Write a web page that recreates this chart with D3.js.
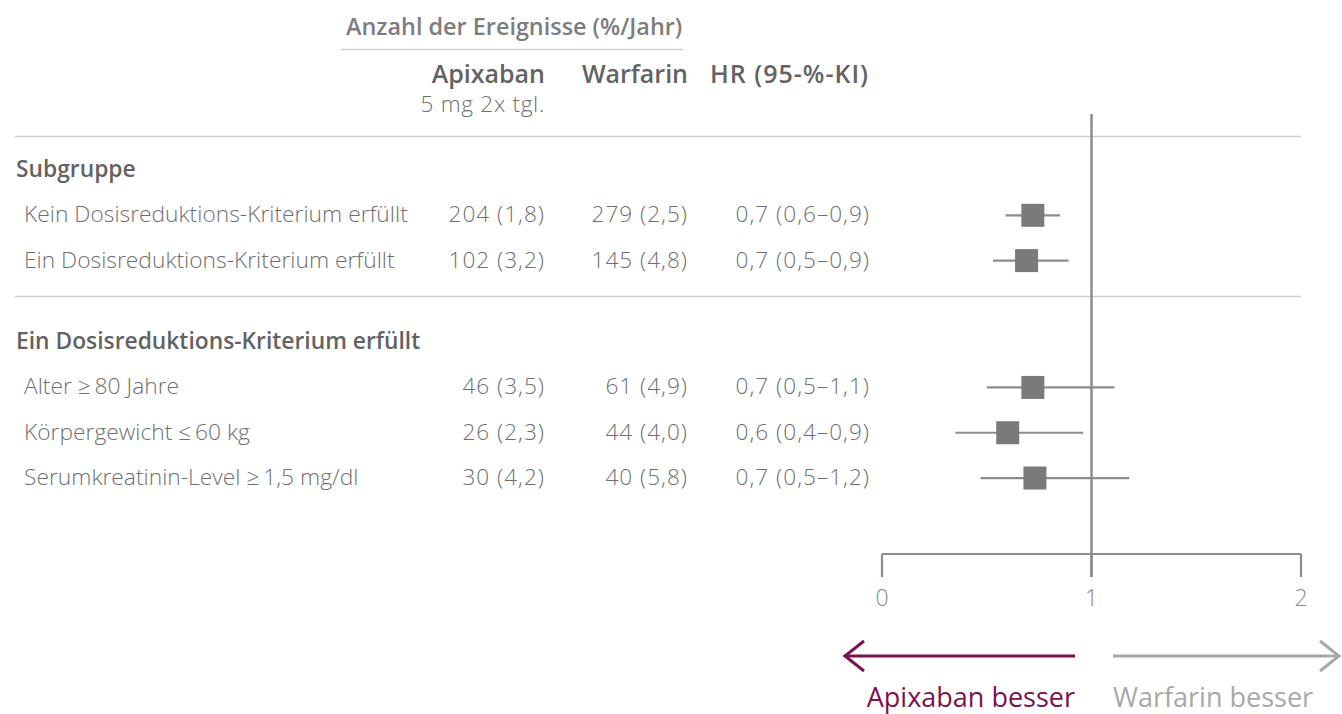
<!DOCTYPE html>
<html>
<head>
<meta charset="utf-8">
<script src="https://cdn.jsdelivr.net/npm/d3@7"></script>
<style>
  html, body { margin: 0; padding: 0; background: #fff; }
  svg { display: block; }
  text { font-family: "Open Sans", "Noto Sans", sans-serif; }
</style>
</head>
<body>
<svg id="chart" width="1342" height="714"></svg>
<script>
// ---------- data ----------
const groupTitles = ["Subgruppe", "Ein Dosisreduktions-Kriterium erfüllt"];
const subgroups = [
  "Kein Dosisreduktions-Kriterium erfüllt",
  "Ein Dosisreduktions-Kriterium erfüllt",
  "Alter \u2265\u200980 Jahre",
  "Körpergewicht \u2264\u200960 kg",
  "Serumkreatinin-Level \u2265\u20091,5 mg/dl"
];
const subgroupGroup = [0, 0, 1, 1, 1];
const apixEvents = [204, 102, 46, 26, 30];
const apixRate   = [1.8, 3.2, 3.5, 2.3, 4.2];
const warfEvents = [279, 145, 61, 44, 40];
const warfRate   = [2.5, 4.8, 4.9, 4.0, 5.8];
const hrEst  = [0.72, 0.69, 0.72, 0.60, 0.73];
const ciLow  = [0.59, 0.53, 0.50, 0.35, 0.47];
const ciHigh = [0.85, 0.89, 1.11, 0.96, 1.18];
const hrLabels = ["0,7 (0,6–0,9)", "0,7 (0,5–0,9)", "0,7 (0,5–1,1)", "0,6 (0,4–0,9)", "0,7 (0,5–1,2)"];
const xTicks = [0, 1, 2];
const headerTitle = "Anzahl der Ereignisse (%/Jahr)";
const colHeaders = ["Apixaban", "Warfarin", "HR (95-%-KI)"];
const apixSub = "5 mg 2x tgl.";
const arrowLabels = ["Apixaban besser", "Warfarin besser"];

// ---------- layout ----------
const svg = d3.select("#chart");
const fmt = v => v.toFixed(1).replace(".", ",");
const txt = "#6f6f6f", bold = "#636363", markC = "#7a7a7a", lineC = "#8c8c8c";
const purple = "#7b1250", lightGray = "#a8a8a8";
const labelSize = 22.8, numSize = 22.6, groupSize = 22.8, colSize = 25, boldW = 600;

const x = d3.scaleLinear().domain([0, 2]).range([882, 1301]);
const slots = [];
let s = 0;
groupTitles.forEach((g, gi) => {
  slots.push({type: "header", text: g, slot: s});
  s += 1;
  subgroups.forEach((r, i) => { if (subgroupGroup[i] === gi) { slots.push({type: "row", i, slot: s}); s += 1; } });
  s += 0.8;
});
const y = d3.scaleLinear().domain([0, 1]).range([169, 214.3]);

// header
svg.append("text").attr("x", 346).attr("y", 27).attr("dy", "0.35em")
  .attr("font-size", 23.4).attr("font-weight", boldW).attr("fill", "#7d7d7d").text(headerTitle);
svg.append("line").attr("x1", 341).attr("x2", 683).attr("y1", 49.5).attr("y2", 49.5)
  .attr("stroke", "#cfcfcf").attr("stroke-width", 1.5);
svg.append("text").attr("x", 545).attr("y", 74).attr("dy", "0.35em").attr("text-anchor", "end")
  .attr("font-size", colSize).attr("font-weight", boldW).attr("fill", bold).text(colHeaders[0]);
svg.append("text").attr("x", 688).attr("y", 74).attr("dy", "0.35em").attr("text-anchor", "end")
  .attr("font-size", colSize).attr("font-weight", boldW).attr("fill", bold).text(colHeaders[1]);
svg.append("text").attr("x", 710).attr("y", 74).attr("dy", "0.35em")
  .attr("font-size", colSize).attr("font-weight", boldW).attr("letter-spacing", 1).attr("fill", bold).text(colHeaders[2]);
svg.append("text").attr("x", 545).attr("y", 104).attr("dy", "0.35em").attr("text-anchor", "end")
  .attr("font-size", numSize).attr("font-weight", 300).attr("letter-spacing", 0.7).attr("fill", txt).text(apixSub);

// separators
[136.5, 296.5].forEach(yy => svg.append("line").attr("x1", 15).attr("x2", 1301).attr("y1", yy).attr("y2", yy)
  .attr("stroke", "#cfcfcf").attr("stroke-width", 1.3));

// reference line at 1
svg.append("line").attr("x1", x(1)).attr("x2", x(1)).attr("y1", 114).attr("y2", 577)
  .attr("stroke", lineC).attr("stroke-width", 2.5);

// rows
slots.forEach(d => {
  const yy = y(d.slot);
  if (d.type === "header") {
    svg.append("text").attr("x", 16).attr("y", yy).attr("dy", "0.35em")
      .attr("font-size", groupSize).attr("font-weight", boldW).attr("fill", bold).text(d.text);
    return;
  }
  const i = d.i;
  const g = svg.append("g");
  g.append("text").attr("x", 24).attr("y", yy).attr("dy", "0.35em")
    .attr("font-size", labelSize).attr("font-weight", 300).attr("fill", txt).text(subgroups[i]);
  g.append("text").attr("x", 545).attr("y", yy).attr("dy", "0.35em").attr("text-anchor", "end")
    .attr("font-size", numSize).attr("font-weight", 300).attr("letter-spacing", 1).attr("fill", txt)
    .text(`${apixEvents[i]} (${fmt(apixRate[i])})`);
  g.append("text").attr("x", 688).attr("y", yy).attr("dy", "0.35em").attr("text-anchor", "end")
    .attr("font-size", numSize).attr("font-weight", 300).attr("letter-spacing", 1).attr("fill", txt)
    .text(`${warfEvents[i]} (${fmt(warfRate[i])})`);
  g.append("text").attr("x", 870).attr("y", yy).attr("dy", "0.35em").attr("text-anchor", "end")
    .attr("font-size", numSize).attr("font-weight", 300).attr("letter-spacing", 1).attr("fill", txt)
    .text(hrLabels[i]);
  g.append("line").attr("x1", x(ciLow[i])).attr("x2", x(ciHigh[i])).attr("y1", yy + 1).attr("y2", yy + 1)
    .attr("stroke", lineC).attr("stroke-width", 2.2);
  g.append("rect").attr("x", x(hrEst[i]) - 11.5).attr("y", yy + 1 - 11.5).attr("width", 23).attr("height", 23)
    .attr("fill", markC);
});

// x axis
const axY = 554;
svg.append("line").attr("x1", x(0)).attr("x2", x(2)).attr("y1", axY).attr("y2", axY)
  .attr("stroke", lineC).attr("stroke-width", 2.2);
svg.selectAll(".tk").data(xTicks).enter().append("line")
  .attr("x1", d => x(d)).attr("x2", d => x(d)).attr("y1", axY).attr("y2", 577)
  .attr("stroke", lineC).attr("stroke-width", 2.2);
svg.selectAll(".tl").data(xTicks).enter().append("text")
  .attr("x", d => x(d)).attr("y", 598).attr("dy", "0.35em").attr("text-anchor", "middle")
  .attr("font-size", 23).attr("font-weight", 300).attr("fill", "#8a8a8a").text(d => d);

// arrows
const arY = 656;
svg.append("line").attr("x1", 844).attr("x2", 1075).attr("y1", arY).attr("y2", arY)
  .attr("stroke", purple).attr("stroke-width", 3);
svg.append("path").attr("d", `M${864},${arY - 15} L${845},${arY} L${864},${arY + 15}`)
  .attr("fill", "none").attr("stroke", purple).attr("stroke-width", 3);
svg.append("line").attr("x1", 1113).attr("x2", 1339).attr("y1", arY).attr("y2", arY)
  .attr("stroke", lightGray).attr("stroke-width", 3);
svg.append("path").attr("d", `M${1320},${arY - 15} L${1339},${arY} L${1320},${arY + 15}`)
  .attr("fill", "none").attr("stroke", lightGray).attr("stroke-width", 3);
svg.append("text").attr("x", 1075).attr("y", 698).attr("dy", "0.35em").attr("text-anchor", "end")
  .attr("font-size", 27).attr("font-weight", 400).attr("fill", purple).text(arrowLabels[0]);
svg.append("text").attr("x", 1113).attr("y", 698).attr("dy", "0.35em")
  .attr("font-size", 27).attr("font-weight", 400).attr("fill", lightGray).text(arrowLabels[1]);
</script>
</body>
</html>
